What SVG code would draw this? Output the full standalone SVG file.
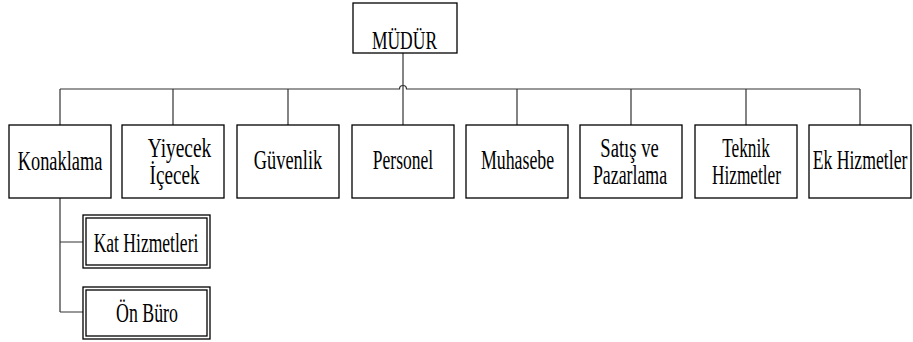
<svg xmlns="http://www.w3.org/2000/svg" width="913" height="342" viewBox="0 0 913 342">
<style>
.box{fill:#fff;stroke:#000;stroke-width:1.3}
.ln{fill:none;stroke:#333;stroke-width:1.2}
.t{font-family:"Liberation Serif","Times New Roman","DejaVu Serif",serif;font-size:27px;fill:#000;text-anchor:middle}
.m{font-size:25px}
</style>
<rect width="913" height="342" fill="#fff"/>
<g id="connectors">
<path class="ln" d="M403,53 V125"/>
<path class="ln" d="M60,89 H399.5 A3.5,3.5 0 0 1 406.5,89 H860"/>
<path class="ln" d="M60,89 V125 M173,89 V125 M288,89 V125 M517,89 V125 M631,89 V125 M746,89 V125 M860,89 V125"/>
<path class="ln" d="M60,198 V312 M60,242 H83 M60,312 H83"/>
</g>
<g id="mudur"><rect class="box" x="353" y="3" width="104" height="50"/><text class="t m" transform="translate(404.5,49) scale(0.7,1)">MÜDÜR</text></g>
<g id="konaklama"><rect class="box" x="9" y="125" width="102" height="73"/><text class="t" transform="translate(60,170) scale(0.68,1)">Konaklama</text></g>
<g id="yiyecek"><rect class="box" x="122" y="125" width="102" height="73"/><text class="t" transform="translate(179.5,157) scale(0.72,1)">Yiyecek</text><text class="t" transform="translate(174.5,184) scale(0.71,1)">İçecek</text></g>
<g id="guvenlik"><rect class="box" x="237" y="125" width="102" height="73"/><text class="t" transform="translate(288,169) scale(0.68,1)">Güvenlik</text></g>
<g id="personel"><rect class="box" x="352" y="125" width="102" height="73"/><text class="t" transform="translate(403,169) scale(0.65,1)">Personel</text></g>
<g id="muhasebe"><rect class="box" x="466" y="125" width="102" height="73"/><text class="t" transform="translate(517.5,169) scale(0.66,1)">Muhasebe</text></g>
<g id="satis"><rect class="box" x="580" y="125" width="102" height="73"/><text class="t" transform="translate(629.5,157) scale(0.69,1)">Satış ve</text><text class="t" transform="translate(630,184) scale(0.66,1)">Pazarlama</text></g>
<g id="teknik"><rect class="box" x="695" y="125" width="102" height="73"/><text class="t" transform="translate(746,157) scale(0.64,1)">Teknik</text><text class="t" transform="translate(746.5,184) scale(0.64,1)">Hizmetler</text></g>
<g id="ek"><rect class="box" x="809" y="125" width="102" height="73"/><text class="t" transform="translate(860,169) scale(0.655,1)">Ek Hizmetler</text></g>
<g id="kat"><rect class="box" x="83" y="215" width="127" height="53"/><rect class="box" x="86" y="218" width="121" height="47"/><text class="t" transform="translate(146,252) scale(0.65,1)">Kat Hizmetleri</text></g>
<g id="onburo"><rect class="box" x="83" y="287" width="127" height="52"/><rect class="box" x="86" y="290" width="121" height="46"/><text class="t" transform="translate(147,322) scale(0.66,1)">Ön Büro</text></g>
</svg>
